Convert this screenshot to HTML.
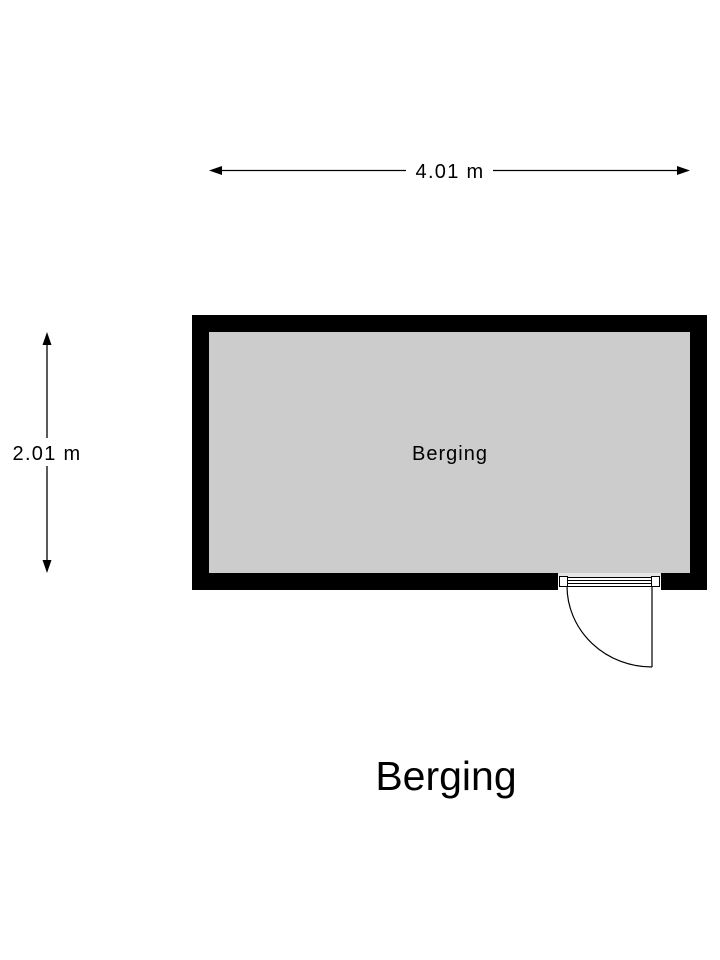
<!DOCTYPE html>
<html><head><style>
html,body{margin:0;padding:0;background:#fff;width:720px;height:960px;overflow:hidden}
text{font-family:"Liberation Sans",Arial,sans-serif;fill:#000}
</style></head><body>
<svg width="720" height="960" viewBox="0 0 720 960" xmlns="http://www.w3.org/2000/svg">
<rect x="192" y="315" width="515" height="275" fill="#000"/>
<rect x="209" y="332" width="481" height="241" fill="#cccccc"/>
<rect x="558" y="573" width="103" height="18" fill="#fff"/>
<rect x="558" y="573" width="103" height="4" fill="#e6e6e6"/>
<rect x="559.5" y="576.5" width="8" height="10" fill="#fff" stroke="#000" stroke-width="1"/>
<rect x="651.5" y="576.5" width="8" height="10" fill="#fff" stroke="#000" stroke-width="1"/>
<line x1="567" y1="577.5" x2="652" y2="577.5" stroke="#000" stroke-width="1"/>
<line x1="567" y1="580.5" x2="652" y2="580.5" stroke="#000" stroke-width="1"/>
<line x1="567" y1="583.5" x2="652" y2="583.5" stroke="#000" stroke-width="1"/>
<line x1="567" y1="586.5" x2="652" y2="586.5" stroke="#000" stroke-width="1"/>
<line x1="652" y1="586" x2="652" y2="667" stroke="#000" stroke-width="1.2"/>
<path d="M567 586 A85 81 0 0 0 652 667" fill="none" stroke="#000" stroke-width="1.2"/>
<text x="450" y="460" font-size="20" text-anchor="middle" letter-spacing="1">Berging</text>
<line x1="218" y1="170.5" x2="406" y2="170.5" stroke="#000" stroke-width="1.3"/>
<line x1="493" y1="170.5" x2="681" y2="170.5" stroke="#000" stroke-width="1.3"/>
<polygon points="209,170.5 222,166 222,175" fill="#000"/>
<polygon points="690,170.5 677,166 677,175" fill="#000"/>
<text x="450" y="178" font-size="20" text-anchor="middle" letter-spacing="1.3">4.01 m</text>
<line x1="47" y1="342" x2="47" y2="438" stroke="#000" stroke-width="1.3"/>
<line x1="47" y1="466" x2="47" y2="563" stroke="#000" stroke-width="1.3"/>
<polygon points="47,332 42.5,345 51.5,345" fill="#000"/>
<polygon points="47,573 42.5,560 51.5,560" fill="#000"/>
<text x="47" y="460" font-size="20" text-anchor="middle" letter-spacing="1.3">2.01 m</text>
<text x="446" y="790" font-size="41" text-anchor="middle">Berging</text>
</svg>
</body></html>
